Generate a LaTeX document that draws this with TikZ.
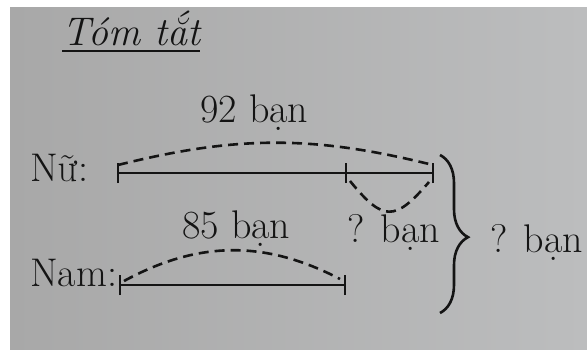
\documentclass[tikz,border=0pt]{standalone}
\usepackage{fontspec}
\usepackage{tikz}
\usetikzlibrary{arrows,calc,decorations.pathreplacing}
\definecolor{paperleft}{RGB}{168,168,168}
\definecolor{paperright}{RGB}{188,189,190}
\definecolor{ink}{RGB}{20,20,20}

\begin{document}
\begin{tikzpicture}[x=1pt,y=1pt,draw=ink]
  \tikzstyle{every node}=[inner sep=0pt,anchor=base west,text=ink,
    font=\fontsize{40}{44}\selectfont\addfontfeature{FakeBold=1.5}]
  \tikzstyle{bar}=[line width=2.6pt]
  \tikzstyle{tick}=[line width=2.6pt]
  \tikzstyle{arc}=[line width=2.6pt,dash pattern=on 10pt off 6pt]
  \tikzstyle{brace}=[line width=2.6pt,decorate,decoration={brace,amplitude=28pt,aspect=0.52}]

  \useasboundingbox (0,0) rectangle (587,349);
  \fill[white] (0,0) rectangle (587,349);
  \shade[left color=paperleft,right color=paperright] (10,0) rectangle (587,341);

  \node (title) at (62,303) {\itshape\addfontfeature{FakeBold=1.5}Tóm tắt};
  \draw[line width=2.6pt] ([yshift=-5pt]title.base west) -- ([yshift=-5pt]title.base east);

  \node (nu)    at (30,168)  {Nữ:};
  \node (nam)   at (30,63)   {Nam:};
  \node (n92)   at (200,227) {92 bạn};
  \node (n85)   at (182,111) {85 bạn};
  \node (diff)  at (347,107) {? bạn};
  \node (total) at (490,97)  {? bạn};

  \coordinate (A) at (118,176);
  \coordinate (M) at (346,176);
  \coordinate (B) at (433,176);
  \coordinate (C) at (120,64);
  \coordinate (D) at (345,64);
  \coordinate (braceTop) at (440,194);
  \coordinate (braceBot) at (440,36);

  \draw[bar] (A) -- (B);
  \draw[bar] (C) -- (D);
  \foreach \p in {A,M,B,C,D}
    \draw[tick] ([yshift=-10pt]\p) -- ([yshift=10pt]\p);

  \path ([yshift=8pt]A) edge[arc,bend left=14] ([yshift=8pt]B)
        ([shift={(4pt,4pt)}]C) edge[arc,bend left=28] ([shift={(-5pt,6pt)}]D)
        ([shift={(4pt,-8pt)}]M) edge[arc,bend right=50,looseness=1.7] ([shift={(-4pt,-9pt)}]B);

  \draw[brace] (braceTop) -- (braceBot);
\end{tikzpicture}
\end{document}
